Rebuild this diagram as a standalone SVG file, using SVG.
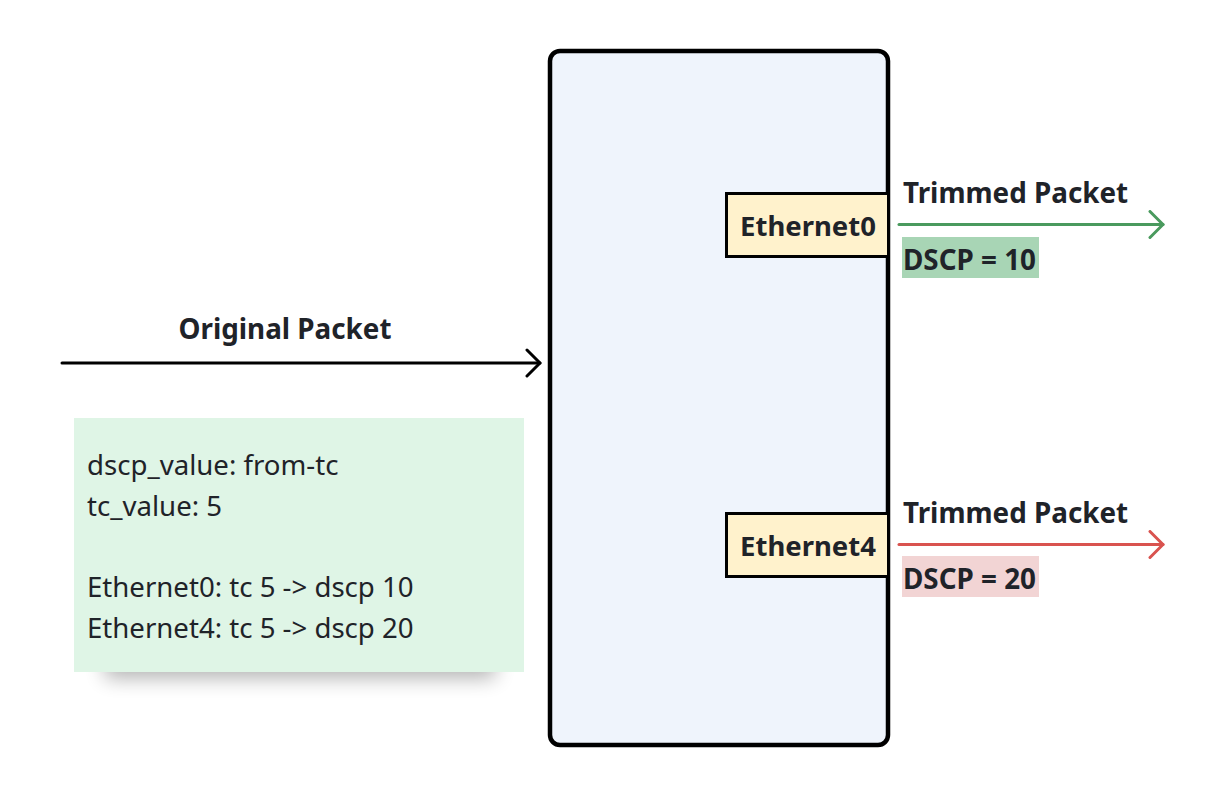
<svg xmlns="http://www.w3.org/2000/svg" width="1230" height="796" viewBox="0 0 1230 796">
<defs>
<style>
.t{font-family:"Source Sans Pro","Noto Sans","Liberation Sans",sans-serif;fill:#1f2329}
.b{font-weight:700;font-size:27.8px}
.n{font-size:27.6px}
.p{font-weight:700;font-size:27.5px}
.port{fill:#fff2cc;stroke:#000;stroke-width:3}
</style>
<filter id="blur" x="-20%" y="-100%" width="140%" height="300%"><feGaussianBlur stdDeviation="10"/></filter>
<marker id="ab" viewBox="0 0 20 30" refX="16" refY="15" markerWidth="20" markerHeight="30" markerUnits="userSpaceOnUse" orient="auto"><path d="M3 2 L16 15 L3 28" fill="none" stroke="#000" stroke-width="3" stroke-linecap="round" stroke-linejoin="round"/></marker>
<marker id="ag" viewBox="0 0 20 30" refX="16" refY="15" markerWidth="20" markerHeight="30" markerUnits="userSpaceOnUse" orient="auto"><path d="M3 2 L16 15 L3 28" fill="none" stroke="#4a9a5e" stroke-width="3" stroke-linecap="round" stroke-linejoin="round"/></marker>
<marker id="ar" viewBox="0 0 20 30" refX="16" refY="15" markerWidth="20" markerHeight="30" markerUnits="userSpaceOnUse" orient="auto"><path d="M3 2 L16 15 L3 28" fill="none" stroke="#d9534f" stroke-width="3" stroke-linecap="round" stroke-linejoin="round"/></marker>
</defs>
<rect width="1230" height="796" fill="#fff"/>
<g id="switch">
<rect x="550" y="51" width="338" height="694" rx="10" fill="#eff4fc" stroke="#000" stroke-width="4.5"/>
</g>
<g id="note">
<rect x="105" y="648" width="390" height="30" fill="#000" opacity="0.3" filter="url(#blur)"/>
<rect x="74" y="418" width="450" height="254" fill="#dff5e6"/>
<text class="t n" x="87" y="475">dscp_value: from-tc</text>
<text class="t n" x="87" y="516">tc_value: 5</text>
<text class="t n" x="87" y="597">Ethernet0: tc 5 -&gt; dscp 10</text>
<text class="t n" x="87" y="638">Ethernet4: tc 5 -&gt; dscp 20</text>
</g>
<g id="eth0">
<rect class="port" x="726.5" y="193.5" width="162" height="63"/>
<text class="t p" x="808" y="236" text-anchor="middle">Ethernet0</text>
</g>
<g id="eth4">
<rect class="port" x="726.5" y="513.5" width="162" height="63"/>
<text class="t p" x="808" y="556" text-anchor="middle">Ethernet4</text>
</g>
<g id="connectors">
<line x1="62" y1="363" x2="540" y2="363" stroke="#000" stroke-width="3" stroke-linecap="round" marker-end="url(#ab)"/>
<text class="t b" x="285" y="339" text-anchor="middle">Original Packet</text>
<line x1="899" y1="224.5" x2="1163" y2="224.5" stroke="#4a9a5e" stroke-width="3" stroke-linecap="round" marker-end="url(#ag)"/>
<text class="t b" x="903" y="203">Trimmed Packet</text>
<rect x="902" y="237" width="137" height="41" fill="#a8d5b5"/>
<text class="t b" x="903" y="270">DSCP = 10</text>
<line x1="899" y1="544.5" x2="1163" y2="544.5" stroke="#d9534f" stroke-width="3" stroke-linecap="round" marker-end="url(#ar)"/>
<text class="t b" x="903" y="523">Trimmed Packet</text>
<rect x="902" y="556" width="137" height="41" fill="#f2d4d4"/>
<text class="t b" x="903" y="589">DSCP = 20</text>
</g>
</svg>
